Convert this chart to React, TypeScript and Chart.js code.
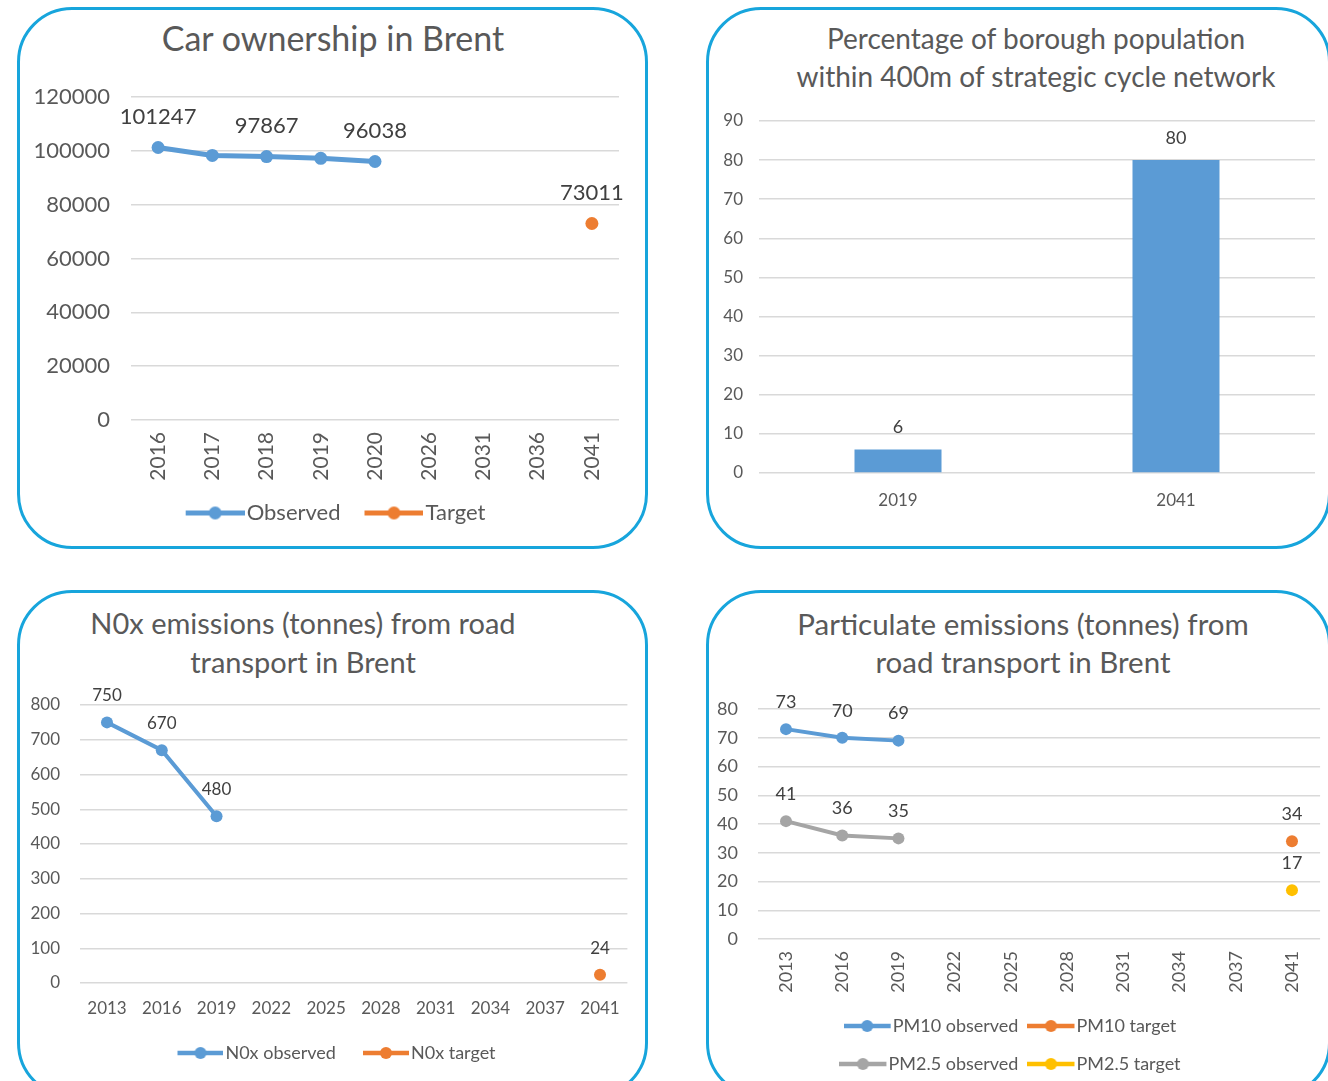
import React, { useEffect, useRef } from "react";
import { Chart, registerables } from "chart.js";

Chart.register(...registerables);

const FONT = "Lato, 'Open Sans', Arial, sans-serif";
const TEXT = "#595959";
const LABEL = "#404040";
const GRID = "#d9d9d9";
const BLUE = "#5b9bd5";
const ORANGE = "#ed7d31";
const GRAY = "#a5a5a5";
const YELLOW = "#ffc000";
const BORDER = "#17a5dc";

// ---- Car ownership in Brent ----
const carYears = ["2016", "2017", "2018", "2019", "2020", "2026", "2031", "2036", "2041"];
const carObserved = [101247, 98300, 97867, 97200, 96038, null, null, null, null];
const carTarget = [null, null, null, null, null, null, null, null, 73011];
const carObservedLabelled = [0, 2, 4];

// ---- Cycle network ----
const cycleYears = ["2019", "2041"];
const cyclePct = [6, 80];

// ---- NOx ----
const noxYears = ["2013", "2016", "2019", "2022", "2025", "2028", "2031", "2034", "2037", "2041"];
const noxObserved = [750, 670, 480, null, null, null, null, null, null, null];
const noxTarget = [null, null, null, null, null, null, null, null, null, 24];

// ---- Particulates ----
const pmYears = ["2013", "2016", "2019", "2022", "2025", "2028", "2031", "2034", "2037", "2041"];
const pm10Observed = [73, 70, 69, null, null, null, null, null, null, null];
const pm10Target = [null, null, null, null, null, null, null, null, null, 34];
const pm25Observed = [41, 36, 35, null, null, null, null, null, null, null];
const pm25Target = [null, null, null, null, null, null, null, null, null, 17];

const valueLabelPlugin: any = {
  id: "valueLabels",
  afterDatasetsDraw(chart: any, _args: any, opts: any) {
    if (!opts || opts.display === false) return;
    const ctx = chart.ctx;
    ctx.save();
    ctx.font = `${opts.size}px ${FONT}`;
    ctx.fillStyle = opts.color || LABEL;
    ctx.textAlign = "center";
    ctx.textBaseline = "middle";
    chart.data.datasets.forEach((ds: any, di: number) => {
      const meta = chart.getDatasetMeta(di);
      const only = ds.labelIndices;
      meta.data.forEach((el: any, i: number) => {
        const v = ds.data[i];
        if (v == null) return;
        if (only && !only.includes(i)) return;
        const y = meta.type === "bar" ? Math.min(el.y, el.base) : el.y;
        ctx.fillText(String(v), el.x, y - opts.offset);
      });
    });
    ctx.restore();
  },
};

// Places the legend box at a given centre and width (canvas coordinates).
const legendBoxPlugin: any = {
  id: "legendBox",
  beforeLayout(chart: any, _a: any, opts: any) {
    const lg = chart.legend;
    if (!lg || !opts || !opts.width) return;
    if (!lg.__patched) {
      const orig = lg.update.bind(lg);
      lg.update = (mw: number, mh: number, m: any) => orig(Math.min(mw, opts.width), mh, m);
      lg.__patched = true;
    }
  },
  afterLayout(chart: any, _a: any, opts: any) {
    const lg = chart.legend;
    if (!lg || !opts || opts.cx == null) return;
    lg.left = opts.cx - opts.width / 2;
    lg.right = opts.cx + opts.width / 2;
    lg.width = opts.width;
  },
};

// line + dot legend symbol; shift moves the visible symbol relative to image centre
function makeMarker(color: string, len: number, shift: number, lineWidth: number, radius: number) {
  const s = Math.abs(shift);
  const c = document.createElement("canvas");
  c.width = Math.round(len + 2 * s);
  c.height = Math.ceil(radius * 2 + 2);
  const g = c.getContext("2d")!;
  const cy = c.height / 2;
  const x0 = s + shift;
  g.strokeStyle = color;
  g.lineWidth = lineWidth;
  g.beginPath();
  g.moveTo(x0, cy);
  g.lineTo(x0 + len, cy);
  g.stroke();
  g.fillStyle = color;
  g.beginPath();
  g.arc(x0 + len / 2, cy, radius, 0, Math.PI * 2);
  g.fill();
  return c;
}

function legendOpts(fontSize: number, boxW: number, padding: number, markers: any[]) {
  return {
    position: "bottom",
    onClick: () => {},
    labels: {
      usePointStyle: true,
      pointStyleWidth: boxW,
      padding,
      color: TEXT,
      font: { size: fontSize, family: FONT },
      generateLabels: (chart: any) =>
        chart.data.datasets.map((ds: any, i: number) => ({
          text: ds.label,
          pointStyle: markers[i],
          fillStyle: ds.borderColor,
          strokeStyle: ds.borderColor,
          lineWidth: 0,
          hidden: false,
          datasetIndex: i,
          fontColor: TEXT,
        })),
    },
  };
}

function lineDs(label: string, data: any[], color: string, width: number, radius: number, extra: any = {}) {
  return {
    label,
    data,
    borderColor: color,
    backgroundColor: color,
    borderWidth: width,
    pointRadius: radius,
    pointHoverRadius: radius,
    pointBackgroundColor: color,
    pointBorderColor: color,
    pointBorderWidth: 0,
    spanGaps: false,
    ...extra,
  };
}

const numCb = (v: any) => String(v);

function xScale(size: number, rotation: number, padding: number, height: number): any {
  return {
    offset: true,
    grid: { display: false, drawTicks: false },
    border: { display: false },
    ticks: {
      color: TEXT,
      font: { size, family: FONT },
      minRotation: rotation,
      maxRotation: rotation,
      padding,
      autoSkip: false,
    },
    afterFit: (s: any) => { s.height = height; },
  };
}

function yScale(max: number, step: number, size: number, padding: number, width: number): any {
  return {
    min: 0,
    max,
    ticks: { stepSize: step, color: TEXT, font: { size, family: FONT }, padding, callback: numCb },
    grid: { color: GRID, lineWidth: 1.5, drawTicks: false },
    border: { display: false },
    afterFit: (s: any) => { s.width = width; },
  };
}

function carConfig(): any {
  const markers = [makeMarker(BLUE, 59, 8.5, 5, 6.5), makeMarker(ORANGE, 59, 8.5, 5, 6.5)];
  return {
    type: "line",
    data: {
      labels: carYears,
      datasets: [
        lineDs("Observed", carObserved, BLUE, 5, 6.5, { labelIndices: carObservedLabelled }),
        lineDs("Target", carTarget, ORANGE, 5, 6.5, { showLine: false }),
      ],
    },
    options: {
      responsive: false,
      animation: false,
      layout: { padding: { top: 90, right: 29, left: 0, bottom: 15 } },
      scales: {
        x: xScale(21, 90, 12, 66),
        y: yScale(120000, 20000, 22, 21, 114),
      },
      plugins: {
        legend: legendOpts(22, 58, 16, markers),
        legendBox: { cx: 314.5, width: 580 },
        tooltip: { enabled: false },
        valueLabels: { offset: 31, size: 22, color: LABEL },
      },
    },
    plugins: [valueLabelPlugin, legendBoxPlugin],
  };
}

function cycleConfig(): any {
  return {
    type: "bar",
    data: {
      labels: cycleYears,
      datasets: [
        {
          label: "Percentage",
          data: cyclePct,
          backgroundColor: BLUE,
          borderWidth: 0,
          barPercentage: 0.313,
          categoryPercentage: 1,
        },
      ],
    },
    options: {
      responsive: false,
      animation: false,
      layout: { padding: { top: 114, right: 21, left: 0, bottom: 0 } },
      scales: {
        x: { ...xScale(17, 0, 17, 76), offset: true },
        y: yScale(90, 10, 17, 16, 53),
      },
      plugins: {
        legend: { display: false },
        tooltip: { enabled: false },
        valueLabels: { offset: 22, size: 18, color: LABEL },
      },
    },
    plugins: [valueLabelPlugin],
  };
}

function noxConfig(): any {
  const markers = [makeMarker(BLUE, 46, 5.5, 4.5, 6), makeMarker(ORANGE, 46, 5.5, 4.5, 6)];
  return {
    type: "line",
    data: {
      labels: noxYears,
      datasets: [
        lineDs("N0x observed", noxObserved, BLUE, 4, 6),
        lineDs("N0x target", noxTarget, ORANGE, 4, 6, { showLine: false }),
      ],
    },
    options: {
      responsive: false,
      animation: false,
      layout: { padding: { top: 115, right: 20.6, left: 0, bottom: 9 } },
      scales: {
        x: xScale(17, 0, 15.8, 38),
        y: yScale(800, 100, 17, 19.6, 62.6),
      },
      plugins: {
        legend: legendOpts(18, 43, 23, markers),
        legendBox: { cx: 317.5, width: 580 },
        tooltip: { enabled: false },
        valueLabels: { offset: 26.5, size: 17, color: LABEL },
      },
    },
    plugins: [valueLabelPlugin, legendBoxPlugin],
  };
}

function pmConfig(): any {
  const markers = [
    makeMarker(BLUE, 47, -2, 4.5, 6),
    makeMarker(ORANGE, 47, -2, 4.5, 6),
    makeMarker(GRAY, 47, -2, 4.5, 6),
    makeMarker(YELLOW, 47, -2, 4.5, 6),
  ];
  return {
    type: "line",
    data: {
      labels: pmYears,
      datasets: [
        lineDs("PM10 observed", pm10Observed, BLUE, 4, 6),
        lineDs("PM10 target", pm10Target, ORANGE, 4, 6, { showLine: false }),
        lineDs("PM2.5 observed", pm25Observed, GRAY, 4, 6),
        lineDs("PM2.5 target", pm25Target, YELLOW, 4, 6, { showLine: false }),
      ],
    },
    options: {
      responsive: false,
      animation: false,
      layout: { padding: { top: 119, right: 15.9, left: 0, bottom: 7 } },
      scales: {
        x: xScale(18, 90, 12, 58),
        y: yScale(80, 10, 18, 20, 51.9),
      },
      plugins: {
        legend: legendOpts(18, 29, 20, markers),
        legendBox: { cx: 309.5, width: 400 },
        tooltip: { enabled: false },
        valueLabels: { offset: 27, size: 18, color: LABEL },
      },
    },
    plugins: [valueLabelPlugin, legendBoxPlugin],
  };
}

function ChartCanvas({ left, top, width, height, build }: any) {
  const ref = useRef<HTMLCanvasElement>(null);
  useEffect(() => {
    const chart = new Chart(ref.current as HTMLCanvasElement, build());
    return () => chart.destroy();
  }, []);
  return (
    <canvas
      ref={ref}
      width={width}
      height={height}
      style={{ position: "absolute", left, top, width, height }}
    />
  );
}

function Panel({ left, top, width, height }: any) {
  return (
    <div
      style={{
        position: "absolute",
        left,
        top,
        width,
        height,
        boxSizing: "border-box",
        border: `3px solid ${BORDER}`,
        borderRadius: 55,
      }}
    />
  );
}

function Title({ cx, cy, lines, size, lineGap }: any) {
  return (
    <div
      style={{
        position: "absolute",
        left: cx - 320,
        top: cy - lineGap / 2,
        width: 640,
        textAlign: "center",
        fontFamily: FONT,
        fontSize: size,
        lineHeight: `${lineGap}px`,
        color: TEXT,
        whiteSpace: "nowrap",
      }}
    >
      {lines.map((l: string, i: number) => (
        <div key={i}>{l}</div>
      ))}
    </div>
  );
}

export default function App() {
  return (
    <div
      style={{
        position: "absolute",
        left: 0,
        top: 0,
        width: 1328,
        height: 1081,
        overflow: "hidden",
        background: "#ffffff",
      }}
    >
      <Panel left={17} top={7} width={631} height={542} />
      <Panel left={706} top={7} width={625} height={542} />
      <Panel left={17} top={590} width={631} height={508} />
      <Panel left={706} top={590} width={625} height={508} />

      <Title cx={333} cy={38} lines={["Car ownership in Brent"]} size={34} lineGap={38} />
      <Title
        cx={1036}
        cy={38}
        lines={["Percentage of borough population", "within 400m of strategic cycle network"]}
        size={28}
        lineGap={38}
      />
      <Title cx={303} cy={622} lines={["N0x emissions (tonnes) from road", "transport in Brent"]} size={29} lineGap={39} />
      <Title
        cx={1023}
        cy={624}
        lines={["Particulate emissions (tonnes) from", "road transport in Brent"]}
        size={29.5}
        lineGap={38}
      />

      <ChartCanvas left={17} top={7} width={631} height={542} build={carConfig} />
      <ChartCanvas left={706} top={7} width={630} height={542} build={cycleConfig} />
      <ChartCanvas left={17} top={590} width={631} height={491} build={noxConfig} />
      <ChartCanvas left={706} top={590} width={630} height={500} build={pmConfig} />
    </div>
  );
}
